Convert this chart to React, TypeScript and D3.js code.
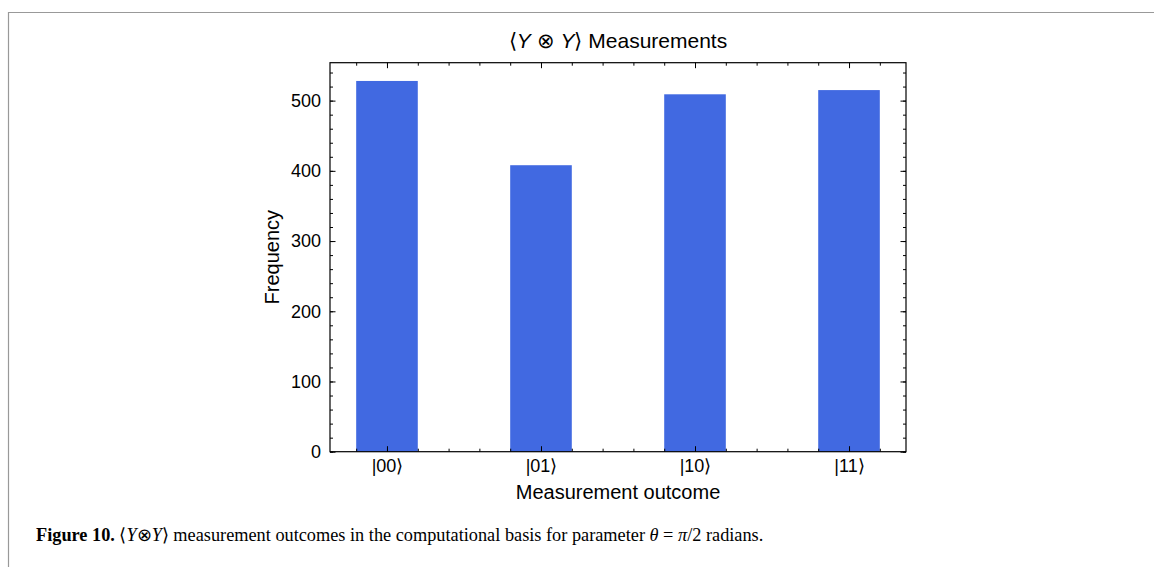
import React, { useEffect, useRef } from "react";
import * as d3 from "d3";

const outcomes = ["|00⟩", "|01⟩", "|10⟩", "|11⟩"];
const counts = [528, 408, 509, 515];
const yMajor = [0, 100, 200, 300, 400, 500];

const App = () => {
  const svgRef = useRef<SVGSVGElement>(null);

  useEffect(() => {
    document.body.style.margin = "0";
    const width = 1154;
    const height = 567;
    const svg = d3.select(svgRef.current);
    svg.selectAll("*").remove();
    svg.attr("width", width).attr("height", height).style("display", "block");

    const sans = "'Liberation Sans', Arial, sans-serif";
    const serif = "'Liberation Serif', 'Times New Roman', serif";

    // page frame
    svg.append("line").attr("x1", 8).attr("x2", width).attr("y1", 12.5).attr("y2", 12.5)
      .attr("stroke", "#999").attr("stroke-width", 1.2);
    svg.append("line").attr("x1", 8.5).attr("x2", 8.5).attr("y1", 12).attr("y2", height)
      .attr("stroke", "#999").attr("stroke-width", 1.2);

    const left = 330, right = 906, top = 62.7, bottom = 451.7;
    const x = d3.scaleLinear().domain([-0.37, 3.37]).range([left, right]);
    const y = d3.scaleLinear().domain([0, 554]).range([bottom, top]);
    const barW = 0.4;

    svg.append("g")
      .selectAll("rect")
      .data(counts)
      .enter()
      .append("rect")
      .attr("x", (d, i) => x(i - barW / 2))
      .attr("width", x(barW) - x(0))
      .attr("y", (d) => y(d))
      .attr("height", (d) => y(0) - y(d))
      .attr("fill", "#4169e1");

    const xMinor = d3.range(-1, 17).map((k) => k * 0.2).filter((v) => v > -0.37 && v < 3.37);
    const yMinor = d3.range(0, 28).map((k) => k * 20);

    const styleAxis = (g) => {
      g.select(".domain").remove();
      g.selectAll(".tick line").attr("stroke", "#000").attr("stroke-width", 1);
    };

    // y axes
    svg.append("g").attr("transform", `translate(${left},0)`)
      .call(d3.axisLeft(y).tickValues(yMinor).tickSize(-3).tickFormat(() => ""))
      .call(styleAxis);
    svg.append("g").attr("transform", `translate(${left},0)`)
      .call(d3.axisLeft(y).tickValues(yMajor).tickSize(-5.5).tickPadding(9))
      .call(styleAxis)
      .selectAll("text").attr("fill", "#000").style("font-family", sans).style("font-size", "18px");
    svg.append("g").attr("transform", `translate(${right},0)`)
      .call(d3.axisRight(y).tickValues(yMinor).tickSize(-3).tickFormat(() => ""))
      .call(styleAxis);
    svg.append("g").attr("transform", `translate(${right},0)`)
      .call(d3.axisRight(y).tickValues(yMajor).tickSize(-5.5).tickFormat(() => ""))
      .call(styleAxis);

    // x axes
    const xMajorVals = outcomes.map((d, i) => i);
    svg.append("g").attr("transform", `translate(0,${bottom})`)
      .call(d3.axisBottom(x).tickValues(xMinor).tickSize(-3).tickFormat(() => ""))
      .call(styleAxis);
    svg.append("g").attr("transform", `translate(0,${bottom})`)
      .call(d3.axisBottom(x).tickValues(xMajorVals).tickSize(-5.5).tickPadding(8)
        .tickFormat((d) => outcomes[d as number]))
      .call(styleAxis)
      .selectAll("text").attr("fill", "#000").style("font-family", sans).style("font-size", "18px");
    svg.append("g").attr("transform", `translate(0,${top})`)
      .call(d3.axisTop(x).tickValues(xMinor).tickSize(-3).tickFormat(() => ""))
      .call(styleAxis);
    svg.append("g").attr("transform", `translate(0,${top})`)
      .call(d3.axisTop(x).tickValues(xMajorVals).tickSize(-5.5).tickFormat(() => ""))
      .call(styleAxis);

    // frame
    svg.append("rect").attr("x", left).attr("y", top).attr("width", right - left)
      .attr("height", bottom - top).attr("fill", "none").attr("stroke", "#000").attr("stroke-width", 1.2);

    // title
    const title = svg.append("text").attr("x", (left + right) / 2).attr("y", 48)
      .attr("text-anchor", "middle").style("font-family", sans).style("font-size", "21px").attr("fill", "#000");
    title.append("tspan").text("⟨");
    title.append("tspan").style("font-style", "italic").text("Y");
    title.append("tspan").text(" ⊗ ");
    title.append("tspan").style("font-style", "italic").text("Y");
    title.append("tspan").text("⟩ Measurements");

    svg.append("text").attr("x", (left + right) / 2).attr("y", 499)
      .attr("text-anchor", "middle").style("font-family", sans).style("font-size", "20px")
      .text("Measurement outcome");

    svg.append("text").attr("transform", `translate(279,${(top + bottom) / 2}) rotate(-90)`)
      .attr("text-anchor", "middle").style("font-family", sans).style("font-size", "20px")
      .text("Frequency");

    // caption
    const cap = svg.append("text").attr("x", 36).attr("y", 541)
      .style("font-family", serif).style("font-size", "18.3px").attr("fill", "#000");
    cap.append("tspan").style("font-weight", "bold").text("Figure 10.");
    cap.append("tspan").text(" ⟨");
    cap.append("tspan").style("font-style", "italic").text("Y");
    cap.append("tspan").text("⊗");
    cap.append("tspan").style("font-style", "italic").text("Y");
    cap.append("tspan").text("⟩ measurement outcomes in the computational basis for parameter ");
    cap.append("tspan").style("font-style", "italic").text("θ");
    cap.append("tspan").text(" = ");
    cap.append("tspan").style("font-style", "italic").text("π");
    cap.append("tspan").text("/2 radians.");
  }, []);

  return <svg ref={svgRef}></svg>;
};

export default App;
